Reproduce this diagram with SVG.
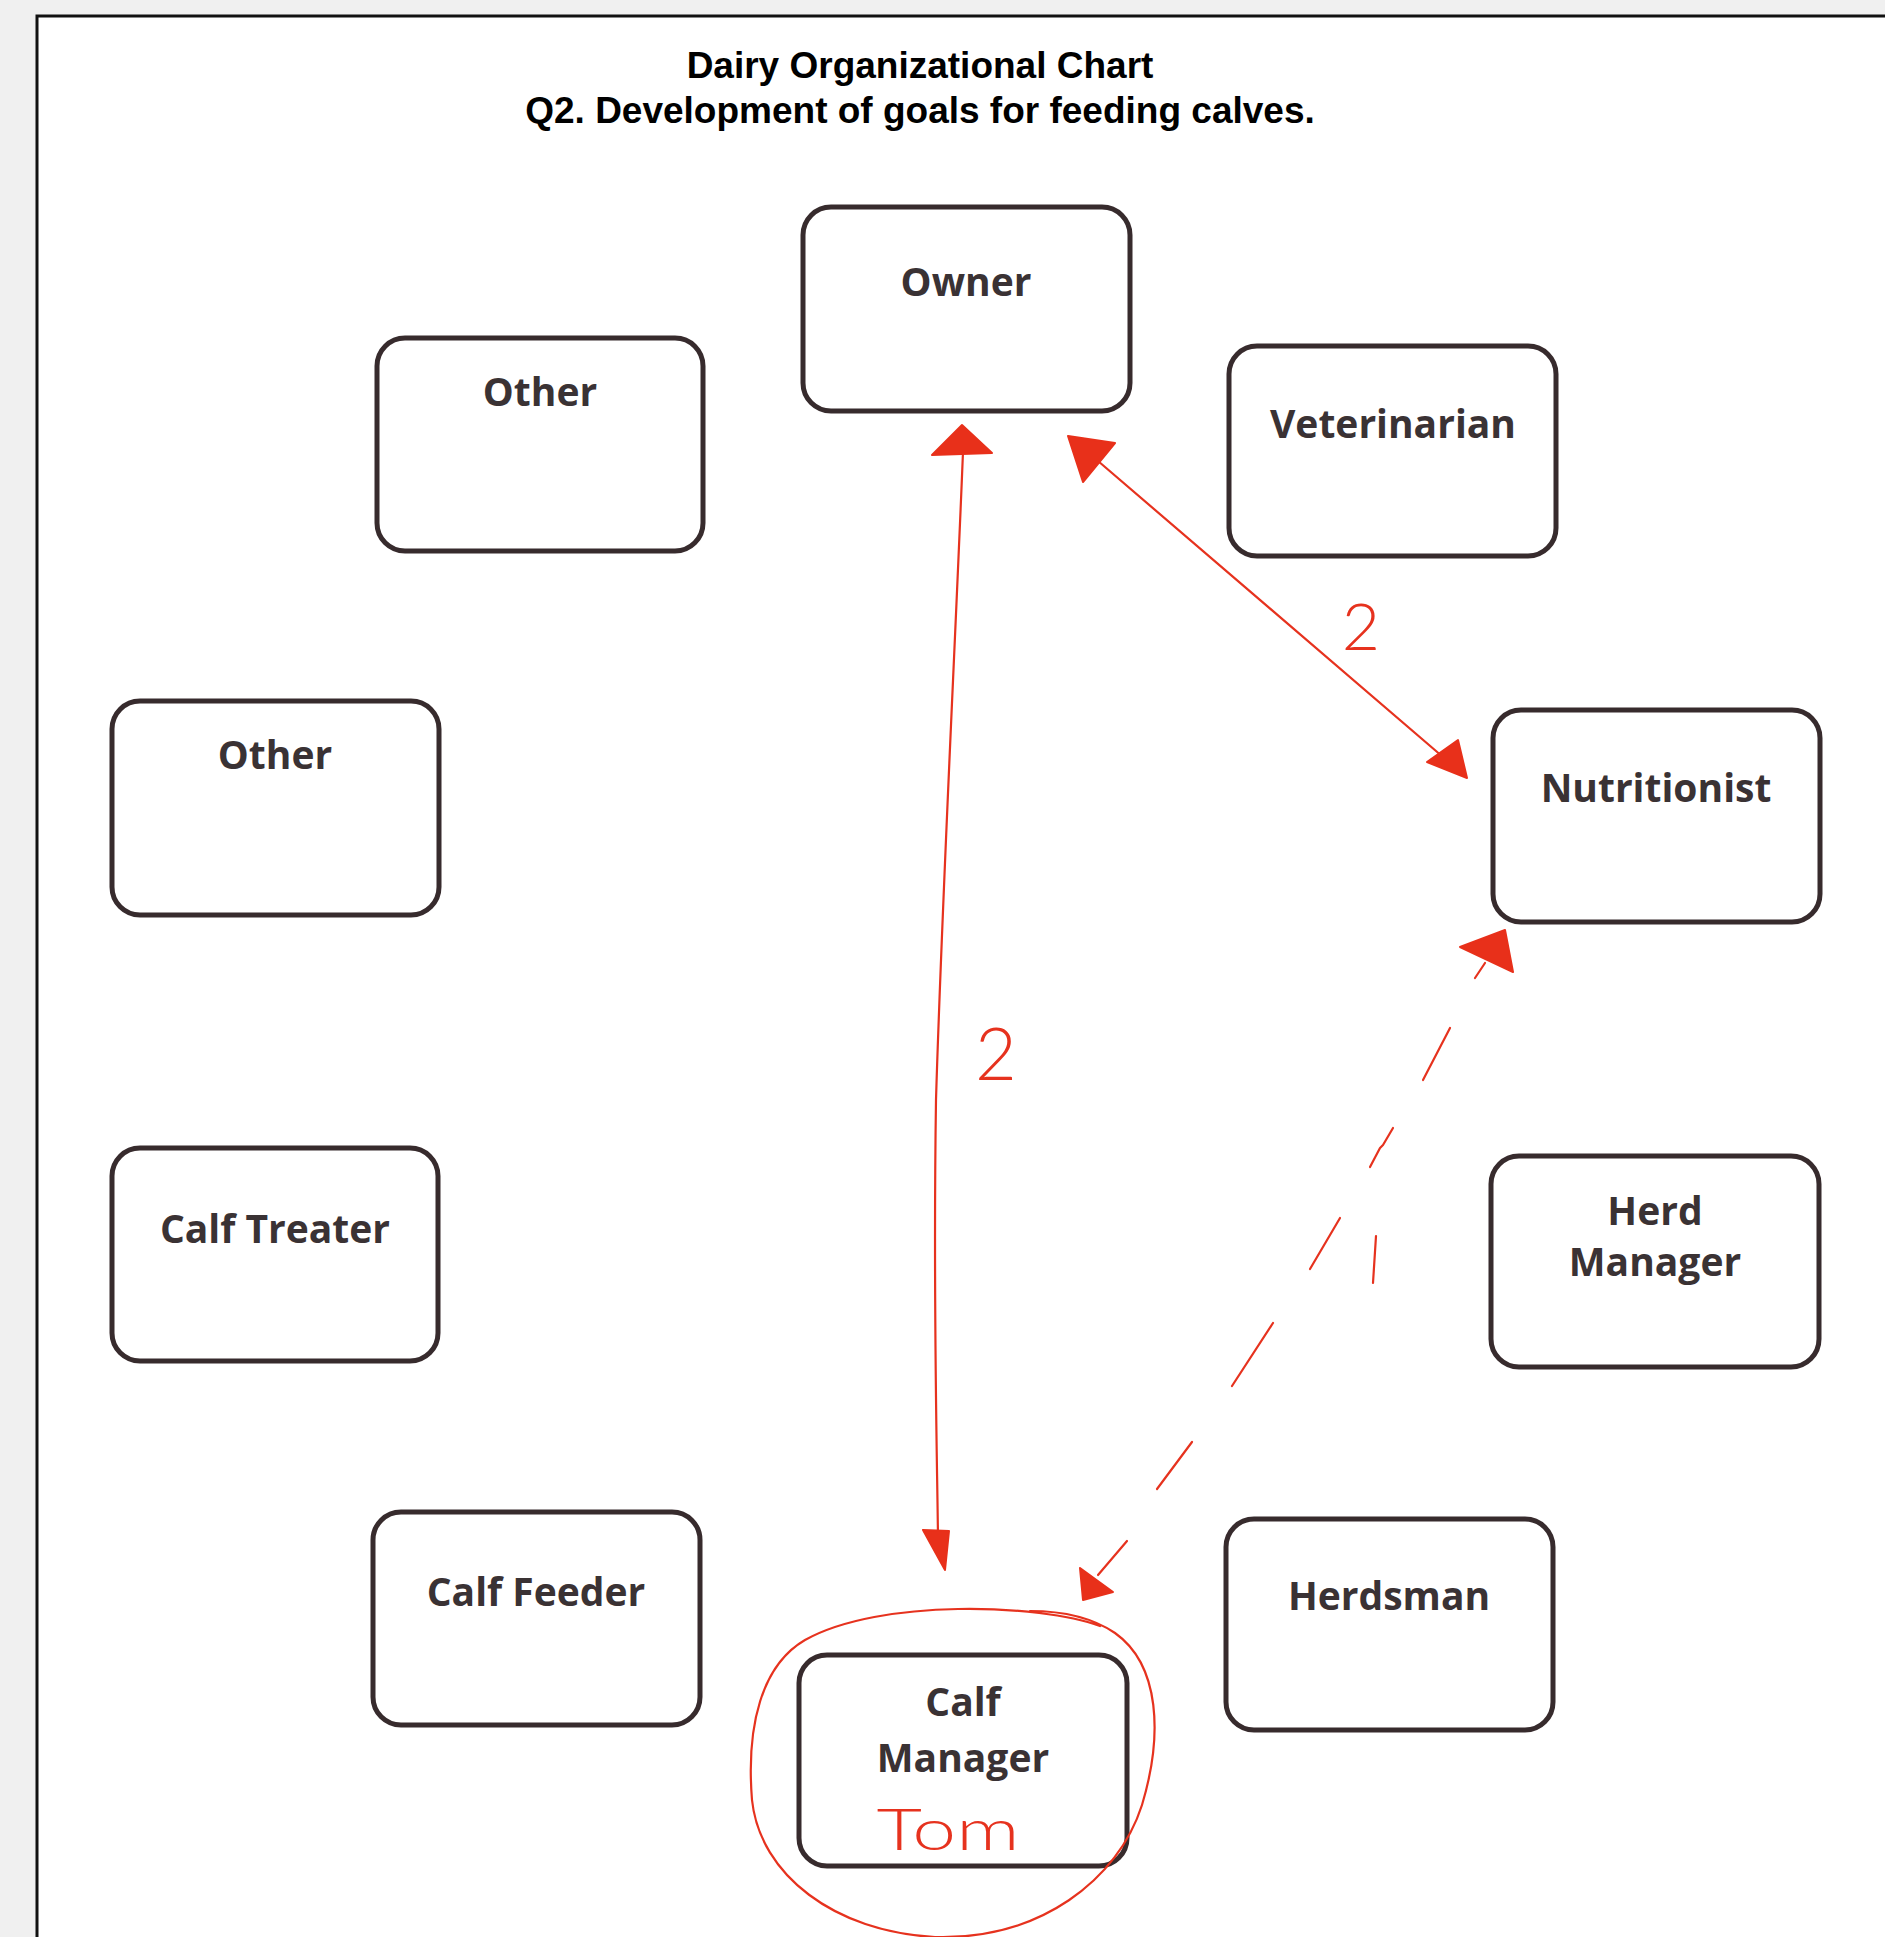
<svg xmlns="http://www.w3.org/2000/svg" width="1885" height="1937" viewBox="0 0 1885 1937">
<style>
.box{fill:none;stroke:#372b2d;stroke-width:5}
.lbl{font-family:"Open Sans","Liberation Sans",sans-serif;font-weight:700;font-size:39px;fill:#3a3234;text-anchor:middle}
.title{font-family:"Liberation Sans",Arial,sans-serif;font-weight:700;font-size:37px;fill:#000;text-anchor:middle}
.red{fill:none;stroke:#e6321e;stroke-width:2.2;stroke-linecap:round;stroke-linejoin:round}
.head{fill:#e8301a;stroke:#e8301a;stroke-width:2;stroke-linejoin:round}
.hand{font-family:"Lato","Liberation Sans",sans-serif;font-weight:300;fill:#e6321e}
</style>
<rect x="0" y="0" width="1885" height="1937" fill="#f0f0f0"/>
<rect x="37" y="16" width="1848" height="1921" fill="#ffffff"/>
<path d="M37 1937 V16 H1885" fill="none" stroke="#111" stroke-width="3"/>
<g id="title">
<text class="title" x="920" y="78">Dairy Organizational Chart</text>
<text class="title" x="920" y="123">Q2. Development of goals for feeding calves.</text>
</g>
<g id="owner"><rect class="box" x="803" y="207" width="327" height="204" rx="28"/><text class="lbl" x="966" y="296">Owner</text></g>
<g id="other-top"><rect class="box" x="377" y="338" width="326" height="213" rx="28"/><text class="lbl" x="540" y="406">Other</text></g>
<g id="veterinarian"><rect class="box" x="1229" y="346" width="327" height="210" rx="28"/><text class="lbl" x="1393" y="438">Veterinarian</text></g>
<g id="other-left"><rect class="box" x="112" y="701" width="327" height="214" rx="28"/><text class="lbl" x="275" y="769">Other</text></g>
<g id="nutritionist"><rect class="box" x="1493" y="710" width="327" height="212" rx="28"/><text class="lbl" x="1656" y="802">Nutritionist</text></g>
<g id="calf-treater"><rect class="box" x="112" y="1148" width="326" height="213" rx="28"/><text class="lbl" x="275" y="1243">Calf Treater</text></g>
<g id="herd-manager"><rect class="box" x="1491" y="1156" width="328" height="211" rx="28"/><text class="lbl" x="1655" y="1225">Herd</text><text class="lbl" x="1655" y="1276">Manager</text></g>
<g id="calf-feeder"><rect class="box" x="373" y="1512" width="327" height="213" rx="28"/><text class="lbl" x="536" y="1606">Calf Feeder</text></g>
<g id="herdsman"><rect class="box" x="1226" y="1519" width="327" height="211" rx="28"/><text class="lbl" x="1389" y="1610">Herdsman</text></g>
<g id="calf-manager"><rect class="box" x="799" y="1655" width="328" height="211" rx="28"/><text class="lbl" x="963" y="1716">Calf</text><text class="lbl" x="963" y="1772">Manager</text>
<text class="hand" x="948" y="1850" font-size="58" text-anchor="middle" textLength="143" lengthAdjust="spacingAndGlyphs">Tom</text>
<path class="red" d="M1100 1626 C1040 1604 880 1598 805 1640 C762 1665 746 1725 752 1800 C760 1875 835 1932 935 1937 C1040 1940 1118 1880 1142 1805 C1163 1735 1160 1665 1115 1633 C1090 1616 1060 1611 1030 1611"/>
</g>
<g id="connectors">
<path class="red" d="M963 452 C955 650 942 900 936 1100 C933 1300 937 1450 938 1538"/>
<polygon class="head" points="962,425 932,455 992,453"/>
<polygon class="head" points="945,1570 923,1530 949,1531"/>
<text class="hand" x="996" y="1080" font-size="72" text-anchor="middle">2</text>
<path class="red" d="M1098 461 L1450 763"/>
<polygon class="head" points="1068,436 1115,443 1083,482"/>
<polygon class="head" points="1467,778 1427,762 1458,740"/>
<text class="hand" x="1361" y="650" font-size="66" text-anchor="middle">2</text>
<polygon class="head" points="1505,930 1460,947 1513,972"/>
<path class="red" d="M1485 963 L1475 978"/>
<path class="red" d="M1450 1028 L1423 1080"/>
<path class="red" d="M1393 1128 L1383 1145 L1380 1148 L1370 1167"/>
<path class="red" d="M1340 1218 L1310 1269"/>
<path class="red" d="M1273 1323 L1232 1386"/>
<path class="red" d="M1192 1442 L1157 1489"/>
<path class="red" d="M1127 1541 L1098 1575"/>
<polygon class="head" points="1083,1600 1080,1568 1113,1592"/>
<path class="red" d="M1376 1236 L1373 1283"/>
</g>
</svg>
